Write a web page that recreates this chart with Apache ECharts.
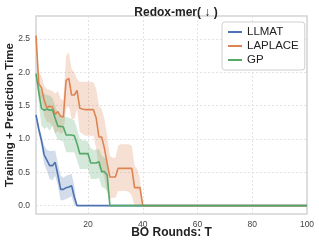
<!DOCTYPE html>
<html><head><meta charset="utf-8">
<script src="https://cdn.jsdelivr.net/npm/echarts@6/dist/echarts.min.js"></script>
<style>html,body{margin:0;padding:0;background:#fff}#c{width:319px;height:248px}</style>
</head><body><div id="c"></div>
<script>
// Values (round index starts at 1)
const xTicks = [20, 40, 60, 80, 100];
const yTicks = [0, 0.5, 1, 1.5, 2, 2.5];

const llmatMean  = [1.36,1.15,0.98,0.76,0.68,0.60,0.60,0.65,0.46,0.245,0.245,0.27,0.28,0.30,0.13,0];
const llmatUpper = [1.38,1.22,1.06,0.90,0.84,0.82,0.82,0.83,0.63,0.45,0.42,0.45,0.46,0.48,0.30,0];
const llmatLower = [1.34,1.08,0.88,0.62,0.52,0.40,0.38,0.45,0.30,0.08,0.08,0.10,0.12,0.14,0.00,0];

const laplaceMean  = [2.55,1.83,1.77,1.58,1.47,1.49,1.48,1.37,1.41,1.34,1.33,1.88,1.91,1.66,1.66,1.73,1.46,1.45,1.44,1.44,1.44,1.44,1.31,1.03,1.03,0.86,0.63,0.43,0.43,0.43,0.56,0.56,0.56,0.56,0.56,0.56,0.27,0.27,0.27,0];
const laplaceUpper = [2.60,2.00,1.95,1.80,1.75,1.74,1.72,1.68,1.72,1.60,1.58,2.25,2.30,2.05,2.00,1.90,1.86,1.86,1.86,1.86,1.86,1.85,1.75,1.50,1.45,1.30,1.05,0.75,0.72,0.72,0.90,0.92,0.92,0.92,0.92,0.90,0.60,0.55,0.40,0];
const laplaceLower = [2.50,1.65,1.60,1.35,1.25,1.25,1.20,1.08,1.12,1.08,1.10,1.45,1.50,1.30,1.30,1.45,1.10,1.08,1.05,1.05,1.05,1.05,0.85,0.55,0.55,0.42,0.20,0.10,0.12,0.12,0.22,0.22,0.22,0.22,0.20,0.15,0.00,0.00,0.00,0];

const gpMean  = [1.98,1.71,1.46,1.43,1.45,1.43,1.44,1.31,1.19,1.19,1.18,1.06,1.06,1.06,1.05,0.93,0.78,0.78,0.78,0.78,0.64,0.64,0.64,0.66,0.51,0.51,0.46,0];
const gpUpper = [2.00,1.85,1.70,1.68,1.66,1.65,1.62,1.50,1.38,1.36,1.35,1.33,1.32,1.30,1.28,1.15,1.00,0.98,0.98,0.96,0.86,0.84,0.84,0.85,0.75,0.72,0.68,0];
const gpLower = [1.96,1.55,1.20,1.15,1.18,1.12,1.20,1.08,0.98,0.98,0.96,0.80,0.80,0.80,0.80,0.68,0.55,0.55,0.55,0.55,0.40,0.40,0.40,0.42,0.28,0.26,0.22,0];

const nRounds = 100;
const colors = {LLMAT:'#4c72b0', LAPLACE:'#dd8452', GP:'#55a868'};

function pad(arr){ const out = arr.slice(); while(out.length < nRounds) out.push(0); return out; }
function pairs(arr){ return pad(arr).map((v,i)=>[i+1, v]); }

const groups = [
  ['LLMAT', llmatMean, llmatUpper, llmatLower],
  ['LAPLACE', laplaceMean, laplaceUpper, laplaceLower],
  ['GP', gpMean, gpUpper, gpLower]
];

const series = [];
groups.forEach(([name, mean, up, lo]) => {
  series.push({type:'custom', name:name+'_band', silent:true, z:1,
    data:[[1, up[0]]],
    renderItem:function(params, api){
      const pts = [];
      for(let i=0;i<up.length;i++) pts.push(api.coord([i+1, up[i]]));
      for(let i=lo.length-1;i>=0;i--) pts.push(api.coord([i+1, lo[i]]));
      return {type:'polygon', shape:{points:pts},
        style:{fill:colors[name], opacity:0.25}};
    }});
});
groups.forEach(([name, mean]) => {
  series.push({type:'line', name:name, data:pairs(mean), symbol:'none',
    lineStyle:{color:colors[name], width:1.6}, itemStyle:{color:colors[name]}, z:3});
});

const FONT = 'Liberation Sans';
const chart = echarts.init(document.getElementById('c'), null, {renderer:'canvas'});
chart.setOption({
  animation:false,
  backgroundColor:'#fff',
  title:{text:'Redox-mer( ↓ )', left:171, top:2, textAlign:'center',
    textStyle:{fontFamily:FONT, fontSize:12, fontWeight:'bold', color:'#222'}},
  grid:{left:36, right:12, top:16, bottom:34, show:true, borderColor:'#d4d4d4', borderWidth:1.5,
    backgroundColor:'#fff', containLabel:false, outerBoundsMode:'none'},
  legend:{data:['LLMAT','LAPLACE','GP'], orient:'vertical', left:222, top:22,
    backgroundColor:'#fff', borderColor:'#cfcfcf', borderWidth:1, borderRadius:3,
    padding:[4,6,4,6], itemGap:2, itemWidth:14, itemHeight:2, icon:'rect',
    textStyle:{fontFamily:FONT, fontSize:11.5, color:'#222'}},
  xAxis:{type:'value', min:1, max:100,
    name:'BO Rounds: T', nameLocation:'middle', nameGap:13, nameMoveOverlap:false,
    nameTextStyle:{fontFamily:FONT, fontSize:12, fontWeight:'bold', color:'#222'},
    axisLine:{show:false}, axisTick:{show:false, customValues:xTicks},
    axisLabel:{customValues:xTicks, fontFamily:FONT, fontSize:8.5, color:'#444', margin:6},
    splitLine:{show:true, lineStyle:{color:'#dcdcdc', width:0.8, type:[2,2]}}},
  yAxis:{type:'value', min:-0.125, max:2.845,
    name:'Training + Prediction Time', nameLocation:'middle', nameGap:20, nameMoveOverlap:false,
    nameTextStyle:{fontFamily:FONT, fontSize:11.5, fontWeight:'bold', color:'#222'},
    axisLine:{show:false}, axisTick:{show:false, customValues:yTicks},
    axisLabel:{customValues:yTicks, fontFamily:FONT, fontSize:8.5, color:'#444', margin:6,
      formatter:v=>v.toFixed(1)},
    splitLine:{show:true, lineStyle:{color:'#dcdcdc', width:0.8, type:[2,2]}}},
  series:series
});
</script></body></html>
